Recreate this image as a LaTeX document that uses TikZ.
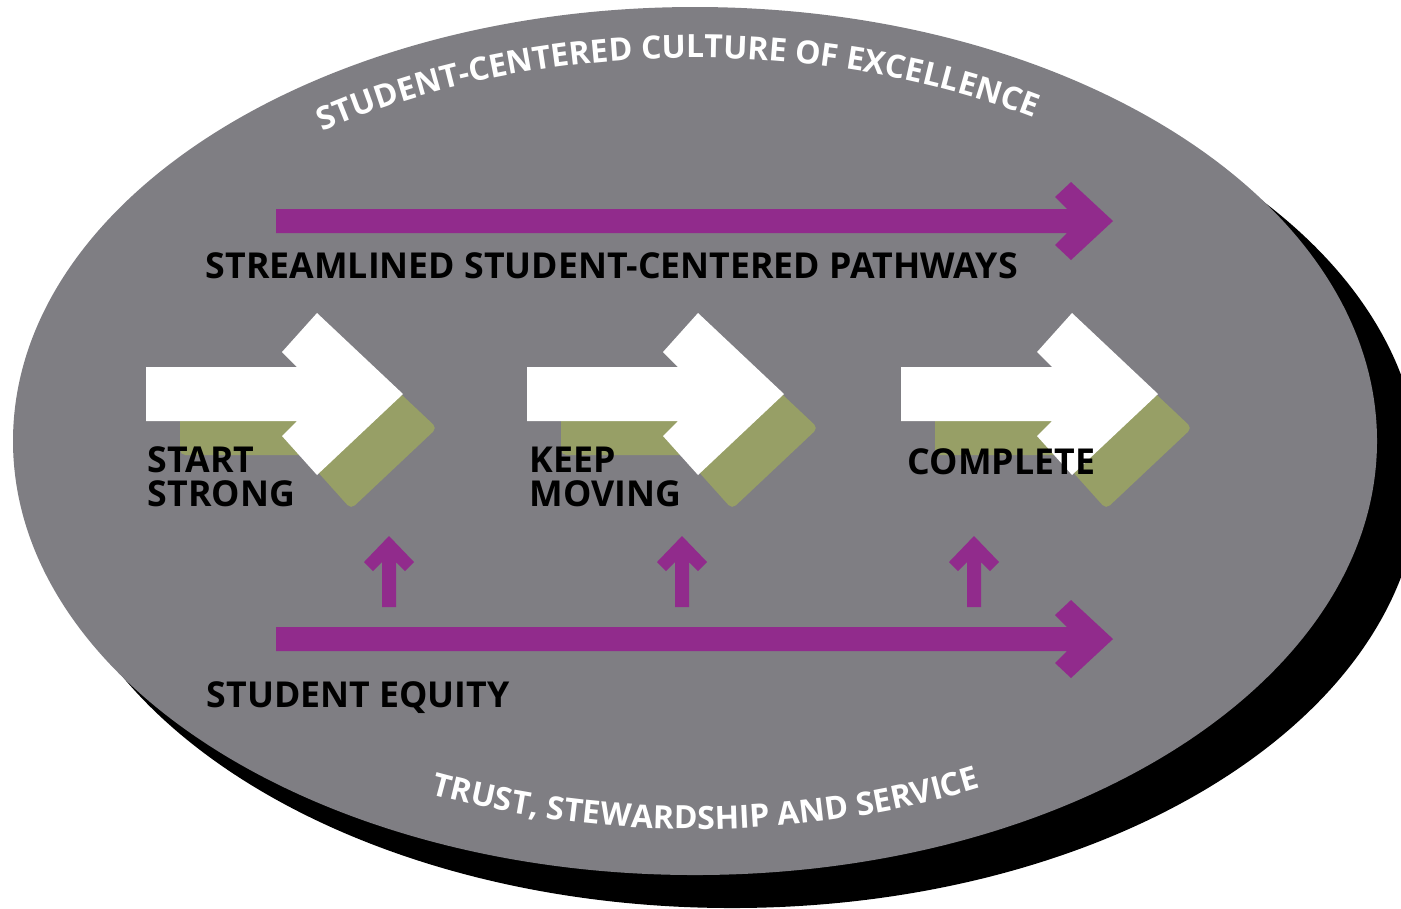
\documentclass[tikz,border=0pt]{standalone}
\usepackage{fontspec}
\setmainfont{Open Sans}
\usepackage{xcolor}
\usepackage{tikz}
\usetikzlibrary{decorations.text}
\definecolor{ovalgray}{HTML}{7F7E83}
\definecolor{arrpurple}{HTML}{912B8C}
\definecolor{stepolive}{HTML}{979F66}
\newcommand{\arcfont}{\bfseries\fontsize{9.1}{11}\selectfont}
\tikzset{
  oval/.style={fill=ovalgray, draw=none},
  ovalshadow/.style={fill=black, draw=none},
  bararrow/.style={fill=arrpurple, draw=none},
  stepbox/.style={fill=white, draw=none},
  stepshade/.style={fill=stepolive, draw=none, rounded corners=1.5pt},
  lab/.style={text=black, inner sep=0pt, align=left,
    font=\bfseries\fontsize{10.15}{9.7}\selectfont},
  arclab/.style={decorate, decoration={text along path, text align=center,
    text color=white, text={|\arcfont|#1}}}
}

\begin{document}
\begin{tikzpicture}[x=0.01cm, y=-0.01cm]
  \useasboundingbox (0,0) rectangle (1401,908);

  % oval and its dark shadow
  \coordinate (O) at (695,441);
  \coordinate (S) at (732,476);
  \fill[ovalshadow] (S) ellipse [x radius=688, y radius=432];
  \fill[oval] (O) ellipse [x radius=682, y radius=434];

  % texts round the rim
  \path[arclab={STUDENT-CENTERED CULTURE OF EXCELLENCE}]
    (O) ++(195:631 and 383) arc [start angle=195, end angle=340, x radius=631, y radius=383];
  \path[arclab={TRUST, STEWARDSHIP AND SERVICE}]
    (O) ++(157:636 and 388) arc [start angle=157, end angle=20, x radius=636, y radius=388];

  % long purple arrows
  \foreach \yy in {221,639}
    \fill[bararrow, shift={(276,\yy)}] (0,-12) -- (791,-12) -- (779,-24) -- (795,-39)
      -- (837,0) -- (795,39) -- (779,24) -- (791,12) -- (0,12) -- cycle;

  % small up arrows
  \foreach \xx in {389,682,974}
    \fill[bararrow, shift={(\xx,607)}] (-7,0) -- (-7,-45) -- (-16,-36) -- (-25,-45)
      -- (0,-71) -- (25,-45) -- (16,-36) -- (7,-45) -- (7,0) -- cycle;

  % step arrows, olive shade under white
  \def\steppath{(0,-27) -- (151,-27) -- (136,-42) -- (171,-81) -- (257,0)
    -- (171,81) -- (136,42) -- (151,27) -- (0,27) -- cycle}
  \foreach \xx in {146,527,901}{
    \fill[stepshade, shift={(\xx+34,428)}] \steppath;
    \fill[stepbox, shift={(\xx,394)}] \steppath;
  }

  % labels
  \node[lab, anchor=base west] (pathways) at (205,278) {STREAMLINED STUDENT-CENTERED PATHWAYS};
  \node[lab, anchor=base west] (equity) at (206,707) {STUDENT EQUITY};
  \node[lab, anchor=north west] (start) at (147,446) {START\\STRONG};
  \node[lab, anchor=north west] (keep) at (529,446) {KEEP\\MOVING};
  \node[lab, anchor=base west] (complete) at (907,474) {COMPLETE};
\end{tikzpicture}
\end{document}
